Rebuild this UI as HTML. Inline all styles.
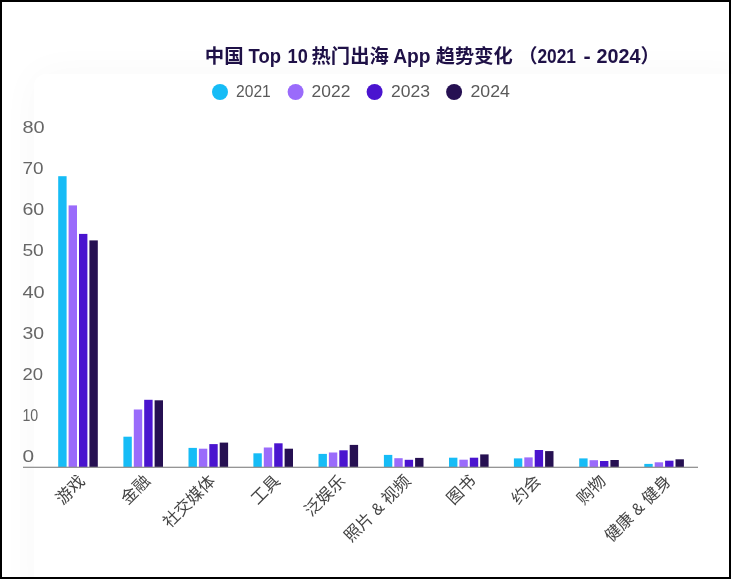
<!DOCTYPE html>
<html lang="zh-CN">
<head>
<meta charset="utf-8">
<title>中国 Top 10 热门出海 App 趋势变化 （2021 - 2024）</title>
<style>
html,body{margin:0;padding:0;background:#fff}
body{width:732px;height:579px;overflow:hidden;position:relative;font-family:"Liberation Sans",sans-serif}
.card{position:absolute;left:34px;top:74px;width:720px;height:540px;border-radius:12px;background:#fff;box-shadow:0 0 40px rgba(0,0,0,.03)}
.frame{position:absolute;left:0;top:0;width:727px;height:575px;border:2px solid #000;box-sizing:content-box}
svg{position:absolute;left:0;top:0;will-change:transform;font-family:"Liberation Sans","Noto Sans CJK SC",sans-serif}
</style>
</head>
<body>
<div class="card"></div>
<svg width="732" height="579" viewBox="0 0 732 579">
<g fill="#1f1147" role="img" aria-label="中国 Top 10 热门出海 App 趋势变化 （2021 - 2024）"><title>中国 Top 10 热门出海 App 趋势变化 （2021 - 2024）</title>
<text x="204.8" y="63.2" font-size="19.3" font-weight="700" textLength="38.8" lengthAdjust="spacingAndGlyphs">中国</text>
<text x="311.5" y="63.2" font-size="19.3" font-weight="700" textLength="77.3" lengthAdjust="spacingAndGlyphs">热门出海</text>
<text x="435.8" y="63.2" font-size="19.3" font-weight="700" textLength="76.8" lengthAdjust="spacingAndGlyphs">趋势变化</text>
<text x="518.3" y="63.2" font-size="19.3" font-weight="700">（</text>
<text x="640.6" y="63.2" font-size="19.3" font-weight="700">）</text>
<text x="248.6" y="63" font-size="19.6" font-weight="700" textLength="32.4" lengthAdjust="spacingAndGlyphs">Top</text>
<text x="287.6" y="63" font-size="19.6" font-weight="700" textLength="20.2" lengthAdjust="spacingAndGlyphs">10</text>
<text x="393.2" y="63" font-size="19.6" font-weight="700" textLength="37.4" lengthAdjust="spacingAndGlyphs">App</text>
<text x="537.4" y="63" font-size="19.6" font-weight="700" textLength="38.6" lengthAdjust="spacingAndGlyphs">2021</text>
<text x="583.6" y="63" font-size="19.6" font-weight="700" textLength="7.2" lengthAdjust="spacingAndGlyphs">-</text>
<text x="596.6" y="63" font-size="19.6" font-weight="700" textLength="44" lengthAdjust="spacingAndGlyphs">2024</text>
</g>
<g font-size="15.8" fill="#5a5a5a">
<circle cx="220" cy="92" r="8" fill="#16bcf6"/><text x="236" y="96.7" textLength="34.8" lengthAdjust="spacingAndGlyphs">2021</text>
<circle cx="295.6" cy="92" r="8" fill="#9a6bfb"/><text x="311.6" y="96.7" textLength="38.8" lengthAdjust="spacingAndGlyphs">2022</text>
<circle cx="374.6" cy="92" r="8" fill="#4a14cf"/><text x="391" y="96.7" textLength="39" lengthAdjust="spacingAndGlyphs">2023</text>
<circle cx="454.1" cy="92" r="8" fill="#261052"/><text x="470.5" y="96.7" textLength="39.4" lengthAdjust="spacingAndGlyphs">2024</text>
</g>
<g font-size="16.4" fill="#666">
<text x="22.4" y="132.7" textLength="22.2" lengthAdjust="spacingAndGlyphs">80</text>
<text x="22.4" y="173.9" textLength="21" lengthAdjust="spacingAndGlyphs">70</text>
<text x="22.4" y="215.1" textLength="21.8" lengthAdjust="spacingAndGlyphs">60</text>
<text x="22.4" y="256.3" textLength="21.4" lengthAdjust="spacingAndGlyphs">50</text>
<text x="22.4" y="297.5" textLength="22.2" lengthAdjust="spacingAndGlyphs">40</text>
<text x="22.4" y="338.7" textLength="21.6" lengthAdjust="spacingAndGlyphs">30</text>
<text x="22.4" y="379.9" textLength="20.6" lengthAdjust="spacingAndGlyphs">20</text>
<text x="22.4" y="421" textLength="15.8" lengthAdjust="spacingAndGlyphs">10</text>
<text x="22.4" y="462.2" textLength="11.6" lengthAdjust="spacingAndGlyphs">0</text>
</g>
<g shape-rendering="auto">
<g><title>游戏</title>
<rect x="58.2" y="176.2" width="8.4" height="290.8" fill="#16bcf6"/>
<rect x="68.6" y="205.4" width="8.4" height="261.6" fill="#9a6bfb"/>
<rect x="79" y="233.9" width="8.4" height="233.1" fill="#4a14cf"/>
<rect x="89.4" y="240.4" width="8.4" height="226.6" fill="#261052"/>
</g>
<g><title>金融</title>
<rect x="123.4" y="436.7" width="8.4" height="30.3" fill="#16bcf6"/>
<rect x="133.8" y="409.5" width="8.4" height="57.5" fill="#9a6bfb"/>
<rect x="144.2" y="399.8" width="8.4" height="67.2" fill="#4a14cf"/>
<rect x="154.6" y="400.3" width="8.4" height="66.7" fill="#261052"/>
</g>
<g><title>社交媒体</title>
<rect x="188.5" y="447.9" width="8.4" height="19.1" fill="#16bcf6"/>
<rect x="198.9" y="448.7" width="8.4" height="18.3" fill="#9a6bfb"/>
<rect x="209.3" y="444.1" width="8.4" height="22.9" fill="#4a14cf"/>
<rect x="219.7" y="442.6" width="8.4" height="24.4" fill="#261052"/>
</g>
<g><title>工具</title>
<rect x="253.4" y="453.3" width="8.4" height="13.7" fill="#16bcf6"/>
<rect x="263.8" y="447.5" width="8.4" height="19.5" fill="#9a6bfb"/>
<rect x="274.2" y="443.3" width="8.4" height="23.7" fill="#4a14cf"/>
<rect x="284.6" y="448.7" width="8.4" height="18.3" fill="#261052"/>
</g>
<g><title>泛娱乐</title>
<rect x="318.5" y="453.9" width="8.4" height="13.1" fill="#16bcf6"/>
<rect x="328.9" y="452.5" width="8.4" height="14.5" fill="#9a6bfb"/>
<rect x="339.3" y="450.3" width="8.4" height="16.7" fill="#4a14cf"/>
<rect x="349.7" y="444.9" width="8.4" height="22.1" fill="#261052"/>
</g>
<g><title>照片 &amp; 视频</title>
<rect x="383.9" y="454.9" width="8.4" height="12.1" fill="#16bcf6"/>
<rect x="394.3" y="458.2" width="8.4" height="8.8" fill="#9a6bfb"/>
<rect x="404.7" y="459.8" width="8.4" height="7.2" fill="#4a14cf"/>
<rect x="415.1" y="457.9" width="8.4" height="9.1" fill="#261052"/>
</g>
<g><title>图书</title>
<rect x="449" y="457.7" width="8.4" height="9.3" fill="#16bcf6"/>
<rect x="459.4" y="459.7" width="8.4" height="7.3" fill="#9a6bfb"/>
<rect x="469.8" y="457.7" width="8.4" height="9.3" fill="#4a14cf"/>
<rect x="480.2" y="454.4" width="8.4" height="12.6" fill="#261052"/>
</g>
<g><title>约会</title>
<rect x="513.9" y="458.4" width="8.4" height="8.6" fill="#16bcf6"/>
<rect x="524.3" y="457.4" width="8.4" height="9.6" fill="#9a6bfb"/>
<rect x="534.7" y="450" width="8.4" height="17" fill="#4a14cf"/>
<rect x="545.1" y="451.1" width="8.4" height="15.9" fill="#261052"/>
</g>
<g><title>购物</title>
<rect x="579.2" y="458.4" width="8.4" height="8.6" fill="#16bcf6"/>
<rect x="589.6" y="460.2" width="8.4" height="6.8" fill="#9a6bfb"/>
<rect x="600" y="461" width="8.4" height="6" fill="#4a14cf"/>
<rect x="610.4" y="460" width="8.4" height="7" fill="#261052"/>
</g>
<g><title>健康 &amp; 健身</title>
<rect x="644.3" y="463.9" width="8.4" height="3.1" fill="#16bcf6"/>
<rect x="654.7" y="462.3" width="8.4" height="4.7" fill="#9a6bfb"/>
<rect x="665.1" y="460.7" width="8.4" height="6.3" fill="#4a14cf"/>
<rect x="675.5" y="459.3" width="8.4" height="7.7" fill="#261052"/>
</g>
</g>
<rect x="23" y="466.7" width="675" height="1.2" fill="#8a8a8a"/>
<g fill="#444" font-size="16.5">
<g transform="translate(86,482.2) rotate(-45)" role="img" aria-label="游戏"><title>游戏</title>
<text x="0" y="0" text-anchor="end">游戏</text>
</g>
<g transform="translate(151.2,482.2) rotate(-45)" role="img" aria-label="金融"><title>金融</title>
<text x="0" y="0" text-anchor="end">金融</text>
</g>
<g transform="translate(216.3,482.2) rotate(-45)" role="img" aria-label="社交媒体"><title>社交媒体</title>
<text x="0" y="0" text-anchor="end">社交媒体</text>
</g>
<g transform="translate(281.2,482.2) rotate(-45)" role="img" aria-label="工具"><title>工具</title>
<text x="0" y="0" text-anchor="end">工具</text>
</g>
<g transform="translate(346.3,482.2) rotate(-45)" role="img" aria-label="泛娱乐"><title>泛娱乐</title>
<text x="0" y="0" text-anchor="end">泛娱乐</text>
</g>
<g transform="translate(411.7,482.2) rotate(-45)" role="img" aria-label="照片 &amp; 视频"><title>照片 &amp; 视频</title>
<text x="-85.8" y="0">照片</text>
<text x="-42.9" y="0" text-anchor="middle">&amp;</text>
<text x="0" y="0" text-anchor="end">视频</text>
</g>
<g transform="translate(476.8,482.2) rotate(-45)" role="img" aria-label="图书"><title>图书</title>
<text x="0" y="0" text-anchor="end">图书</text>
</g>
<g transform="translate(541.7,482.2) rotate(-45)" role="img" aria-label="约会"><title>约会</title>
<text x="0" y="0" text-anchor="end">约会</text>
</g>
<g transform="translate(607,482.2) rotate(-45)" role="img" aria-label="购物"><title>购物</title>
<text x="0" y="0" text-anchor="end">购物</text>
</g>
<g transform="translate(672.1,482.2) rotate(-45)" role="img" aria-label="健康 &amp; 健身"><title>健康 &amp; 健身</title>
<text x="-85.8" y="0">健康</text>
<text x="-42.9" y="0" text-anchor="middle">&amp;</text>
<text x="0" y="0" text-anchor="end">健身</text>
</g>
</g>
</svg>
<div class="frame"></div>
</body>
</html>
